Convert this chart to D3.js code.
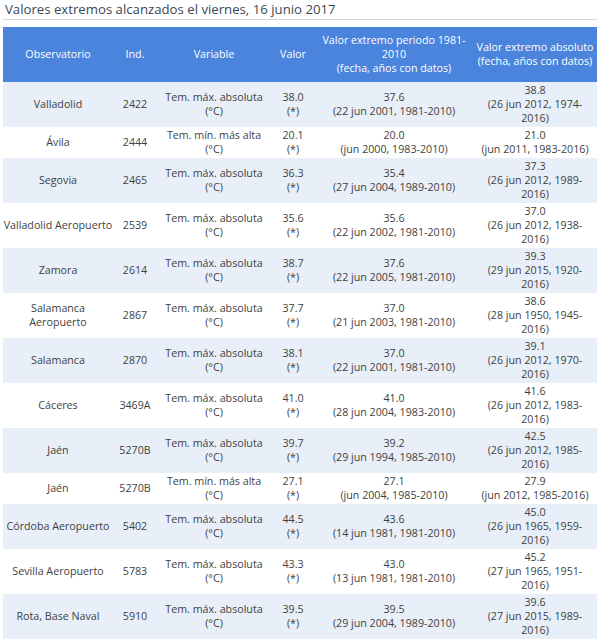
<!DOCTYPE html>
<html>
<head>
<meta charset="utf-8">
<script src="https://cdn.jsdelivr.net/npm/d3@7/dist/d3.min.js"></script>
<style>
  html, body { margin: 0; padding: 0; background: #fff; }
  svg { display: block; font-family: "Open Sans", sans-serif; }
</style>
</head>
<body>
<svg id="chart" width="600" height="641"></svg>
<script>
// ---- data ----
const titulo = "Valores extremos alcanzados el viernes, 16 junio 2017";
const cabeceras = [
  ["Observatorio"],
  ["Ind."],
  ["Variable"],
  ["Valor"],
  ["Valor extremo periodo 1981-", "2010", "(fecha, años con datos)"],
  ["Valor extremo absoluto", "(fecha, años con datos)"]
];
const observatorios = ["Valladolid", "Ávila", "Segovia", "Valladolid Aeropuerto", "Zamora",
  "Salamanca Aeropuerto", "Salamanca", "Cáceres", "Jaén", "Jaén", "Córdoba Aeropuerto",
  "Sevilla Aeropuerto", "Rota, Base Naval"];
const indicativos = ["2422", "2444", "2465", "2539", "2614", "2867", "2870", "3469A", "5270B",
  "5270B", "5402", "5783", "5910"];
const variables = ["Tem. máx. absoluta (°C)", "Tem. mín. más alta (°C)", "Tem. máx. absoluta (°C)",
  "Tem. máx. absoluta (°C)", "Tem. máx. absoluta (°C)", "Tem. máx. absoluta (°C)",
  "Tem. máx. absoluta (°C)", "Tem. máx. absoluta (°C)", "Tem. máx. absoluta (°C)",
  "Tem. mín. más alta (°C)", "Tem. máx. absoluta (°C)", "Tem. máx. absoluta (°C)",
  "Tem. máx. absoluta (°C)"];
const valores = [38.0, 20.1, 36.3, 35.6, 38.7, 37.7, 38.1, 41.0, 39.7, 27.1, 44.5, 43.3, 39.5];
const periodoValor = [37.6, 20.0, 35.4, 35.6, 37.6, 37.0, 37.0, 41.0, 39.2, 27.1, 43.6, 43.0, 39.5];
const periodoFecha = ["22 jun 2001", "jun 2000", "27 jun 2004", "22 jun 2002", "22 jun 2005",
  "21 jun 2003", "22 jun 2001", "28 jun 2004", "29 jun 1994", "jun 2004", "14 jun 1981",
  "13 jun 1981", "29 jun 2004"];
const periodoAnos = ["1981-2010", "1983-2010", "1989-2010", "1981-2010", "1981-2010", "1981-2010",
  "1981-2010", "1983-2010", "1985-2010", "1985-2010", "1981-2010", "1981-2010", "1989-2010"];
const absValor = [38.8, 21.0, 37.3, 37.0, 39.3, 38.6, 39.1, 41.6, 42.5, 27.9, 45.0, 45.2, 39.6];
const absFecha = ["26 jun 2012", "jun 2011", "26 jun 2012", "26 jun 2012", "29 jun 2015",
  "28 jun 1950", "26 jun 2012", "26 jun 2012", "26 jun 2012", "jun 2012", "26 jun 1965",
  "27 jun 1965", "27 jun 2015"];
const absAnos = ["1974-2016", "1983-2016", "1989-2016", "1938-2016", "1920-2016", "1945-2016",
  "1970-2016", "1983-2016", "1985-2016", "1985-2016", "1959-2016", "1951-2016", "1989-2016"];

// ---- layout ----
const svg = d3.select("#chart");
const FONT = 10.7, LH = 14;
const colEdges = [3, 113, 157, 271, 315, 473, 597];
const wrapW = [110, 44, 108, 40, 150, 115];
const colIdx = d3.range(6);
const xLeft = d3.scaleOrdinal().domain(colIdx).range(colEdges.slice(0, 6));
const xRight = d3.scaleOrdinal().domain(colIdx).range(colEdges.slice(1));
const xMid = c => (xLeft(c) + xRight(c)) / 2;

// measuring helper
const meas = svg.append("text").attr("font-size", FONT).attr("visibility", "hidden");
function textW(s) { meas.text(s); return meas.node().getComputedTextLength(); }
function wrap(str, w) {
  // break after spaces or hyphens
  const tokens = str.match(/[^\s-]+-?\s*|\s+/g) || [str];
  const lines = [];
  let cur = "";
  tokens.forEach(t => {
    const test = cur + t;
    if (cur && textW(test.trimEnd()) > w) { lines.push(cur.trimEnd()); cur = t; }
    else cur = test;
  });
  if (cur) lines.push(cur.trimEnd());
  return lines;
}

const fmt = d3.format(".1f");
const rows = observatorios.map((o, i) => {
  const cells = [
    wrap(o, wrapW[0]),
    [indicativos[i]],
    wrap(variables[i], wrapW[2]),
    [fmt(valores[i]), "(*)"],
    [fmt(periodoValor[i])].concat(wrap("(" + periodoFecha[i] + ", " + periodoAnos[i] + ")", wrapW[4])),
    [fmt(absValor[i])].concat(wrap("(" + absFecha[i] + ", " + absAnos[i] + ")", wrapW[5]))
  ];
  const nLines = d3.max(cells, c => c.length);
  return { cells, h: nLines * LH + 3 };
});
meas.remove();

const tableTop = 27, headH = 55;
const rowTops = [];
let acc = tableTop + headH;
rows.forEach(r => { rowTops.push(acc); acc += r.h; });
const yTop = d3.scaleOrdinal().domain(d3.range(rows.length)).range(rowTops);

// title
svg.append("text")
  .attr("x", 5).attr("y", 14)
  .attr("font-size", 13.2)
  .attr("fill", "#3b4756")
  .text(titulo);
svg.append("line")
  .attr("x1", 3).attr("x2", 597).attr("y1", 19.5).attr("y2", 19.5)
  .attr("stroke", "#d3d6da").attr("stroke-width", 1);

// header
const head = svg.append("g");
head.append("rect")
  .attr("x", colEdges[0]).attr("y", tableTop)
  .attr("width", colEdges[6] - colEdges[0]).attr("height", headH)
  .attr("fill", "#4a84dc");

function drawLines(g, lines, cx, cy, color) {
  const n = lines.length;
  const t = g.append("text")
    .attr("text-anchor", "middle")
    .attr("font-size", FONT)
    .attr("fill", color);
  lines.forEach((l, k) => {
    t.append("tspan")
      .attr("x", cx)
      .attr("y", cy + (k - (n - 1) / 2) * LH)
      .attr("dy", "0.35em")
      .text(l);
  });
}

cabeceras.forEach((lines, c) => drawLines(head, lines, xMid(c), tableTop + headH / 2, "#ffffff"));

// body
const body = svg.append("g");
const rowG = body.selectAll("g.row")
  .data(rows)
  .join("g")
  .attr("class", "row");

rowG.append("rect")
  .attr("x", colEdges[0])
  .attr("y", (d, i) => yTop(i))
  .attr("width", colEdges[6] - colEdges[0])
  .attr("height", d => d.h)
  .attr("fill", (d, i) => i % 2 === 0 ? "#e8eff8" : "#ffffff");

rowG.each(function (d, i) {
  const g = d3.select(this);
  d.cells.forEach((lines, c) => drawLines(g, lines, xMid(c), yTop(i) + d.h / 2, "#3f3f3f"));
});
</script>
</body>
</html>
